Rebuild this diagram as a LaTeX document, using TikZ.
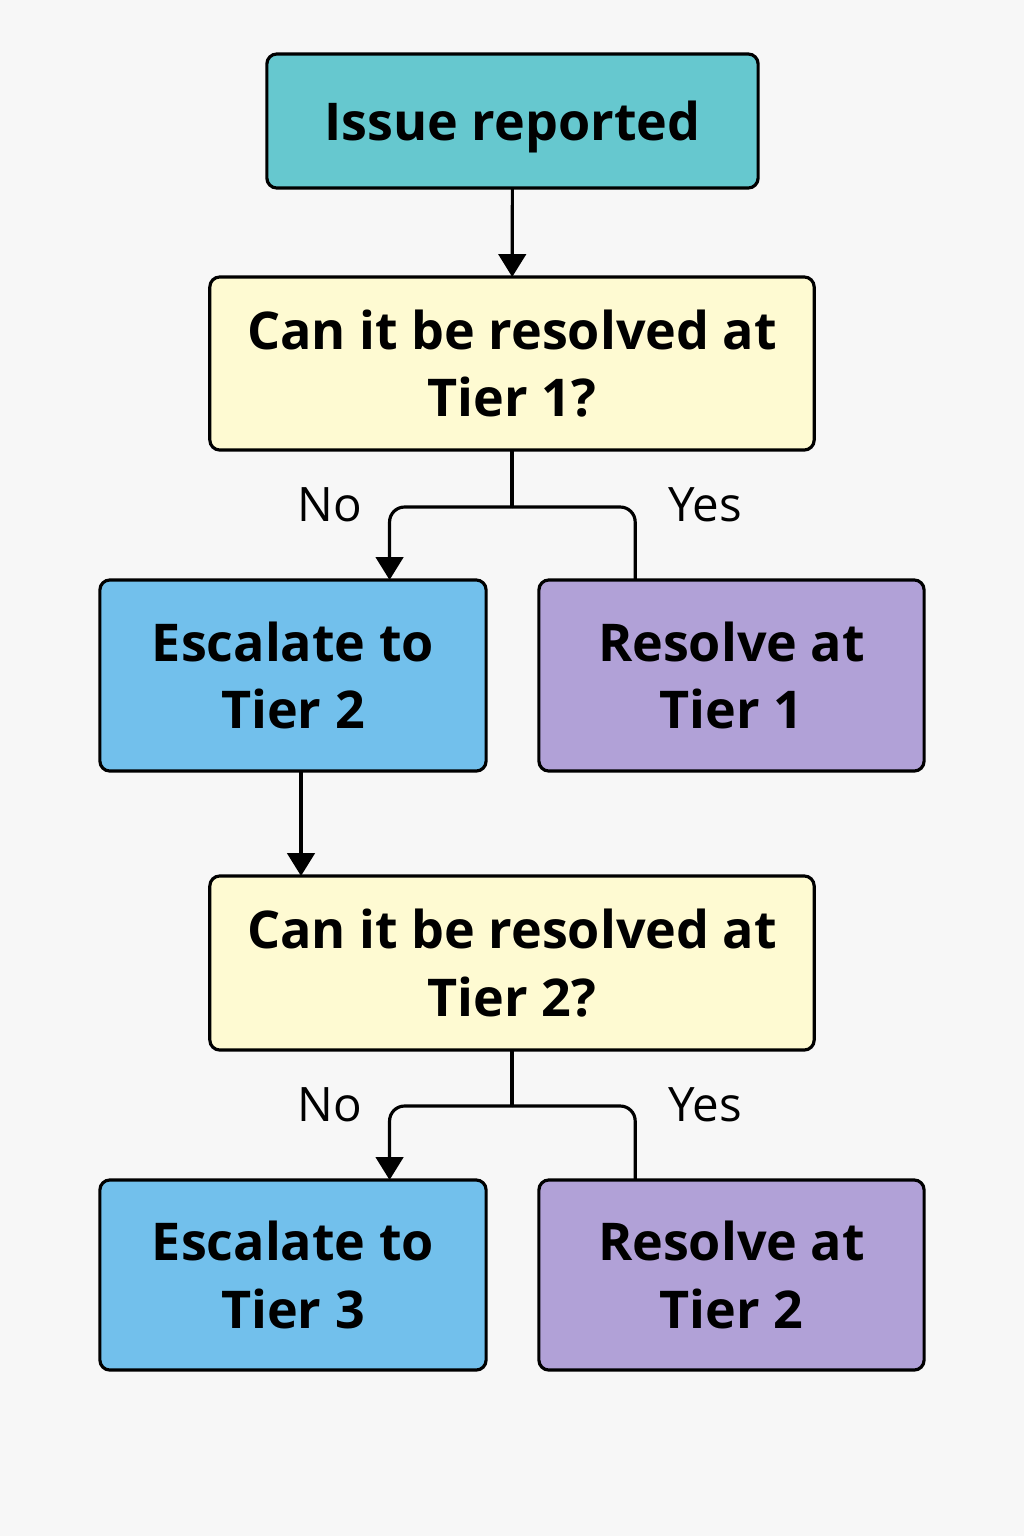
\documentclass[tikz,border=0pt]{standalone}
\usepackage{fontspec}
\setmainfont{Open Sans}
\usetikzlibrary{arrows.meta, positioning, calc}

\definecolor{bgcol}{HTML}{F7F7F7}
\definecolor{startcol}{HTML}{66C8CF}
\definecolor{askcol}{HTML}{FEFAD2}
\definecolor{escalcol}{HTML}{72C0EC}
\definecolor{resolvecol}{HTML}{B1A1D7}

\begin{document}
\begin{tikzpicture}[
    x=0.01cm, y=-0.01cm,
    box/.style={draw, line width=0.9pt, rounded corners=0.1cm, inner sep=0pt, outer sep=0pt, align=center, font=\bfseries\fontsize{14.8}{19.3}\selectfont},
    arrow/.style={-{Triangle[length=6.5pt, width=7.8pt]}, line width=0.9pt},
    link/.style={line width=0.9pt},
    answer/.style={font=\fontsize{13.5}{16}\selectfont}
]
    \fill[bgcol] (0,0) rectangle (1024,1536);
    \useasboundingbox (0,0) rectangle (1024,1536);

    \node[box, fill=startcol, minimum width=4.91cm, minimum height=1.34cm, text depth=0pt] (issue) at (512.5,121) {Issue reported};
    \node[box, fill=askcol, minimum width=6.04cm, minimum height=1.73cm] (ask1) at (512,363.5) {Can it be resolved at\\Tier 1?};
    \node[box, fill=escalcol, minimum width=3.86cm, minimum height=1.91cm] (esc2) at (293,675.5) {Escalate to\\Tier 2};
    \node[box, fill=resolvecol, minimum width=3.85cm, minimum height=1.91cm] (res1) at (731.5,675.5) {Resolve at\\Tier 1};
    \node[box, fill=askcol, minimum width=6.04cm, minimum height=1.74cm] (ask2) at (512,963) {Can it be resolved at\\Tier 2?};
    \node[box, fill=escalcol, minimum width=3.86cm, minimum height=1.90cm] (esc3) at (293,1275) {Escalate to\\Tier 3};
    \node[box, fill=resolvecol, minimum width=3.85cm, minimum height=1.90cm] (res2) at (731.5,1275) {Resolve at\\Tier 2};

    \coordinate (split1) at (512,507);
    \coordinate (split2) at (512,1106);

    \node[answer] (no1) at (330,505) {No};
    \node[answer] (yes1) at (705,505) {Yes};
    \node[answer] (no2) at (330,1105) {No};
    \node[answer] (yes2) at (705,1105) {Yes};

    \draw[arrow] (issue) -- (ask1);

    \draw[link] (ask1.south) -- (split1);
    \draw[arrow, rounded corners=0.15cm] (split1) -| ($(esc2.north west)!0.75!(esc2.north east)$);
    \draw[link, rounded corners=0.15cm] (split1) -| ($(res1.north west)!0.25!(res1.north east)$);

    \draw[arrow] ([xshift=0.08cm]esc2.south) -- ([xshift=0.08cm]esc2.south |- ask2.north);

    \draw[link] (ask2.south) -- (split2);
    \draw[arrow, rounded corners=0.15cm] (split2) -| ($(esc3.north west)!0.75!(esc3.north east)$);
    \draw[link, rounded corners=0.15cm] (split2) -| ($(res2.north west)!0.25!(res2.north east)$);
\end{tikzpicture}
\end{document}
